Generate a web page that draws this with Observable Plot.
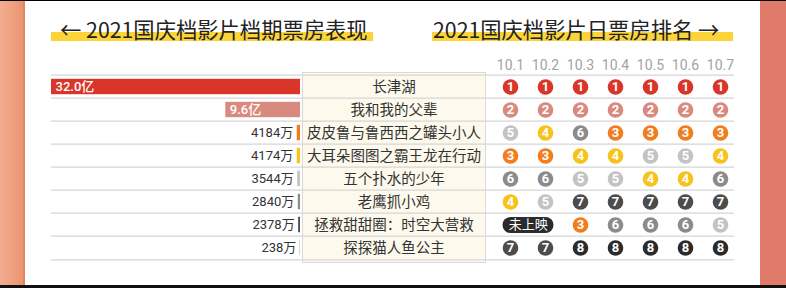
<!DOCTYPE html>
<html><head><meta charset="utf-8">
<script src="https://cdn.jsdelivr.net/npm/d3@7"></script>
<script src="https://cdn.jsdelivr.net/npm/@observablehq/plot@0.6"></script>
<style>
body{margin:0;background:#fff;}
#root{position:relative;width:786px;height:288px;overflow:hidden;background:#fff;font-family:"Noto Sans CJK SC","Noto Sans",sans-serif;}
.abs{position:absolute;}
.hl{position:absolute;height:9px;background:#fbd437;}
.title{position:absolute;font-size:21.3px;line-height:22px;color:#222;white-space:nowrap;}
</style></head><body><div id="root"></div>
<script>
// ---- data ----
const films = ["长津湖","我和我的父辈","皮皮鲁与鲁西西之罐头小人","大耳朵图图之霸王龙在行动","五个扑水的少年","老鹰抓小鸡","拯救甜甜圈：时空大营救","探探猫人鱼公主"];
const boxOfficeYi = [32.0, 9.6, 0.4184, 0.4174, 0.3544, 0.2840, 0.2378, 0.0238];
const boxLabels = ["32.0亿","9.6亿","4184万","4174万","3544万","2840万","2378万","238万"];
const days = ["10.1","10.2","10.3","10.4","10.5","10.6","10.7"];
const ranksChangjinhu = [1,1,1,1,1,1,1];
const ranksFubei = [2,2,2,2,2,2,2];
const ranksPipilu = [5,4,6,3,3,3,3];
const ranksDaerduo = [3,3,4,4,5,5,4];
const ranksWuge = [6,6,5,5,4,4,6];
const ranksLaoying = [4,5,7,7,7,7,7];
const ranksTiantianquan = [null,null,3,6,6,6,5];
const ranksTantanmao = [7,7,8,8,8,8,8];
const rankColors = ["#d9362a","#d98a7e","#f07d1f","#f7c21b","#c3c3c3","#8b8b8b","#4c4c4c","#2b2b2b"];
const notReleasedLabel = "未上映";
const leftTitle = "← 2021国庆档影片档期票房表现";
const rightTitle = "2021国庆档影片日票房排名 →";

// ---- derived tables ----
const allRanks = [ranksChangjinhu, ranksFubei, ranksPipilu, ranksDaerduo, ranksWuge, ranksLaoying, ranksTiantianquan, ranksTantanmao];
const rows = films.map((f, i) => ({film: f, order: i + 1, box: boxOfficeYi[i], label: boxLabels[i]}));
const cells = [];
const pills = [];
films.forEach((f, i) => {
  const missing = [];
  allRanks[i].forEach((r, j) => {
    if (r == null) missing.push(days[j]);
    else cells.push({film: f, day: days[j], rank: r});
  });
  if (missing.length) pills.push({film: f, from: missing[0], to: missing[missing.length - 1]});
});

const root = document.getElementById("root");
function place(el, left, top) { el.style.position = "absolute"; el.style.left = left + "px"; el.style.top = top + "px"; root.appendChild(el); }
function div(cls, css) { const d = document.createElement("div"); d.className = cls; Object.assign(d.style, css); root.appendChild(d); return d; }

// frame decorations
div("abs", {left: "0px", top: "0px", width: "786px", height: "1px", background: "#000"});
div("abs", {left: "0px", top: "285px", width: "786px", height: "3px", background: "#111"});
div("abs", {left: "0px", top: "1px", width: "23px", height: "284px", background: "linear-gradient(to right,#f2ae90,#eb9470)", borderRight: "2px solid #e4845f"});
div("abs", {left: "760px", top: "1px", width: "26px", height: "284px", background: "#e07b6b"});

// titles
div("hl", {left: "51px", top: "32px", width: "322px"});
div("hl", {left: "432px", top: "32px", width: "301px"});
const t1 = div("title", {left: "60px", top: "18px"}); t1.textContent = leftTitle;
const t2 = div("title", {left: "433px", top: "18px"}); t2.textContent = rightTitle;

const rowsTop = 72, rowsH = 190, step = rowsH / films.length;
const grid = "#d6d6d6";
const colorScale = {domain: d3.range(1, 9), range: rankColors, type: "ordinal"};
const yBand = {type: "band", domain: films, padding: 0, axis: null};

// bars chart
const barsChart = Plot.plot({
  width: 249, height: rowsH, margin: 0,
  x: {domain: [0, 32], reverse: true, axis: null},
  y: yBand,
  color: colorScale,
  style: {fontFamily: "Roboto, 'Noto Sans CJK SC', sans-serif", fontSize: "13px", overflow: "visible"},
  marks: [
    Plot.ruleY(films, {dy: -step / 2, stroke: grid, strokeWidth: 1.3}),
    Plot.ruleY(films.slice(-1), {dy: step / 2, stroke: grid, strokeWidth: 1.3}),
    Plot.barX(rows, {x: "box", y: "film", fill: "order", insetTop: 3.8, insetBottom: 3.8}),
    Plot.text(rows.filter(d => d.box > 5), {x: "box", y: "film", text: "label", textAnchor: "start", dx: 4, fill: "white", fontWeight: 500}),
    Plot.text(rows.filter(d => d.box <= 5), {x: "box", y: "film", text: "label", textAnchor: "end", dx: -4, fill: "#333"})
  ]
});
place(barsChart, 51, rowsTop);

// names chart
const namesChart = Plot.plot({
  width: 187, height: rowsH, margin: 0,
  y: yBand,
  style: {fontFamily: "'Noto Sans CJK SC', sans-serif", fontSize: "14.5px", overflow: "visible"},
  marks: [
    Plot.frame({fill: "#fdf9ec", stroke: "#d9d9d9", insetLeft: 2, insetRight: 2}),
    Plot.ruleY(films, {dy: -step / 2, stroke: grid, strokeWidth: 1.3}),
    Plot.ruleY(films.slice(-1), {dy: step / 2, stroke: grid, strokeWidth: 1.3}),
    Plot.text(rows, {y: "film", text: "film", frameAnchor: "middle", fill: "#333"})
  ]
});
place(namesChart, 300, rowsTop);

// ranks chart
const rankW = 247, mTop = 20, insetL = 21, insetR = 12;
const colStep = (rankW - insetL - insetR) / (days.length - 1);
const ranksChart = Plot.plot({
  width: rankW, height: rowsH + mTop, marginTop: mTop, marginLeft: 0, marginRight: 0, marginBottom: 0,
  x: {type: "point", domain: days, padding: 0, insetLeft: insetL, insetRight: insetR, axis: "top", tickSize: 0, tickPadding: 3, label: null},
  y: yBand,
  color: colorScale,
  style: {fontFamily: "Roboto, sans-serif", fontSize: "14px", color: "#a3a3a3", overflow: "visible"},
  marks: [
    Plot.ruleY(films, {dy: -step / 2, stroke: grid, strokeWidth: 1.3}),
    Plot.ruleY(films.slice(-1), {dy: step / 2, stroke: grid, strokeWidth: 1.3}),
    Plot.dot(cells, {x: "day", y: "film", r: 7.8, fill: "rank", stroke: null}),
    Plot.text(cells, {x: "day", y: "film", text: "rank", fill: "white", fontWeight: "bold", fontSize: 13}),
    Plot.link(pills, {x1: "from", x2: "to", y1: "film", y2: "film", stroke: rankColors[7], strokeWidth: 16, strokeLinecap: "round"}),
    Plot.text(pills, {x: "from", y: "film", text: () => notReleasedLabel, dx: colStep / 2, fill: "white", fontSize: 13, fontFamily: "'Noto Sans CJK SC', sans-serif"})
  ]
});
place(ranksChart, 487, rowsTop - mTop);
</script></body></html>
